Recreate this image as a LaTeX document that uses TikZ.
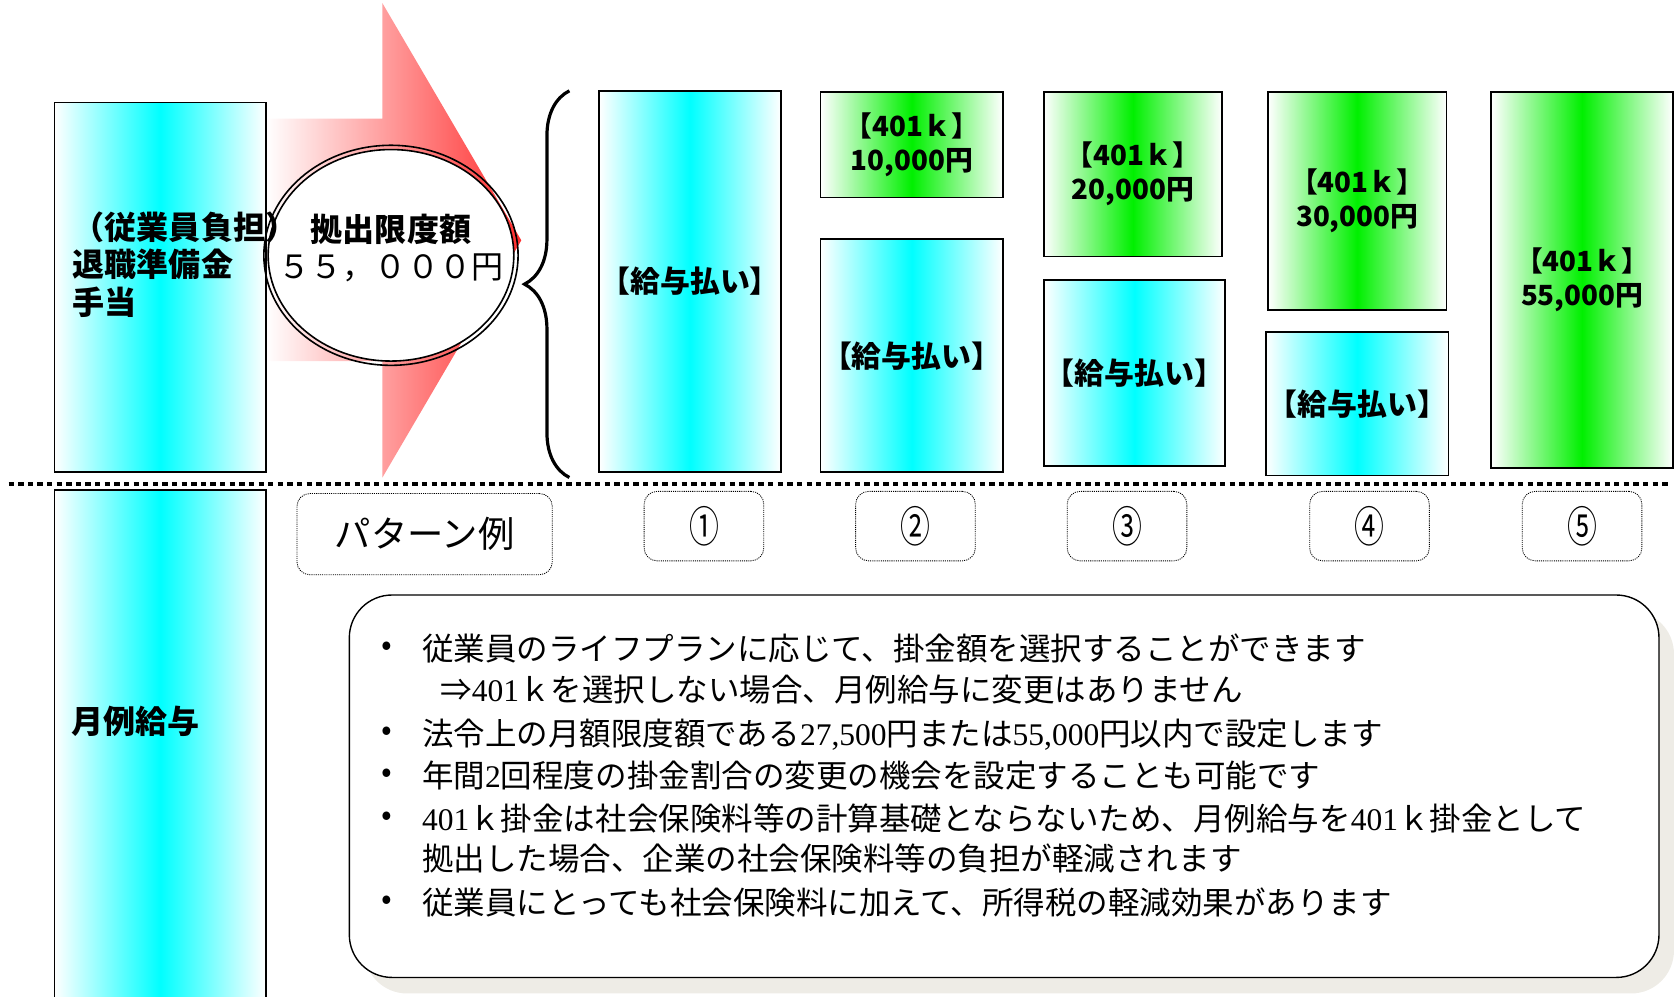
\documentclass[tikz,border=0pt]{standalone}
\usepackage{fontspec}
\setmainfont{Noto Sans CJK JP}
\newfontfamily\timesfont{Liberation Serif}
\usetikzlibrary{shapes.geometric,shadows,decorations.pathreplacing}

\definecolor{paycyan}{RGB}{0,255,255}
\definecolor{kgreen}{RGB}{0,240,0}
\definecolor{arrowred}{RGB}{255,45,45}
\definecolor{shadowgray}{RGB}{238,236,230}

\newcommand\boxfont{\fontsize{26}{32}\selectfont\bfseries}
\newcommand\sidefont{\fontsize{30}{35}\selectfont\bfseries}
\newcommand\notefont{\fontsize{29.5}{39.6}\selectfont}

\begin{document}
\begin{tikzpicture}[x=1pt,y=-1pt,
    paybox/.style={draw,line width=1.6pt,inner sep=0pt,left color=white,right color=white,middle color=paycyan,font=\fontsize{28}{32}\selectfont\bfseries,align=center},
    kbox/.style={paybox,middle color=kgreen,font=\boxfont},
    numbox/.style={draw,line width=0.8pt,dash pattern=on 1pt off 1pt,rounded corners=12pt,minimum width=112pt,minimum height=65pt,font=\fontsize{40}{40}\selectfont},
    line/.style={anchor=base west,font=\notefont,inner sep=0pt}]
    \useasboundingbox (0,0) rectangle (1568,933);

    % arrow
    \shade[left color=white,right color=arrowred] (249,111) -- (358,111) -- (358,3) -- (488,225) -- (358,447) -- (358,338) -- (249,338) -- cycle;

    % left column
    \node[paybox,minimum width=198pt,minimum height=346pt] (resv) at (150,269) {};
    \node[paybox,minimum width=198pt,minimum height=501pt] (salary) at (150,709.5) {};

    % limit
    \node[ellipse,draw,line width=1.5pt,fill=white,minimum width=230pt,minimum height=198pt] (limit) at (366,239) {};
    \draw[line width=1.5pt] (limit.center) ellipse [x radius=119,y radius=103];
    \node[align=center,font=\fontsize{30}{35}\selectfont] (limittxt) at (366,232) {{\bfseries 拠出限度額}\\５５，０００円};

    \node[anchor=north west,align=left,font=\sidefont,inner sep=0pt] (resvtxt) at (68,198) {（従業員負担）\\退職準備金\\手当};
    \node[anchor=west,font=\sidefont,inner sep=0pt] (saltxt) at (67,675) {月例給与};

    \draw[line width=3pt,decorate,decoration={brace,amplitude=42pt}] (533,447) -- (533,85);

    % patterns
    \node[paybox,minimum width=170pt,minimum height=357pt] (pay1) at (646,263.5) {【給与払い】};
    \node[kbox,minimum width=171pt,minimum height=99pt] (k2) at (853.5,135.5) {【401ｋ】\\10,000円};
    \node[paybox,minimum width=171pt,minimum height=218pt] (pay2) at (853.5,333) {【給与払い】};
    \node[kbox,minimum width=167pt,minimum height=154pt] (k3) at (1060.5,163) {【401ｋ】\\20,000円};
    \node[paybox,minimum width=170pt,minimum height=174pt] (pay3) at (1062,349) {【給与払い】};
    \node[kbox,minimum width=167pt,minimum height=204pt] (k4) at (1270.5,188) {【401ｋ】\\30,000円};
    \node[paybox,minimum width=171pt,minimum height=134pt] (pay4) at (1270.5,378) {【給与払い】};
    \node[kbox,minimum width=170pt,minimum height=352pt] (k5) at (1481,262) {【401ｋ】\\55,000円};

    \draw[line width=4.5pt,dash pattern=on 5pt off 4pt] (8,453) -- (1562,453);

    \node[numbox,minimum width=239pt,minimum height=76pt,font=\fontsize{34}{34}\selectfont] (pattern) at (397.5,500) {パターン例};
    \node[numbox] (n1) at (659,492.5) {\scalebox{0.7}[1]{①}};
    \node[numbox] (n2) at (857,492.5) {\scalebox{0.7}[1]{②}};
    \node[numbox] (n3) at (1055,492.5) {\scalebox{0.7}[1]{③}};
    \node[numbox] (n4) at (1282,492.5) {\scalebox{0.7}[1]{④}};
    \node[numbox] (n5) at (1481,492.5) {\scalebox{0.7}[1]{⑤}};

    % notes
    \node[draw,line width=1.3pt,fill=white,rounded corners=40pt,minimum width=1226pt,minimum height=358pt,
        drop shadow={shadow xshift=14pt,shadow yshift=-15pt,fill=shadowgray,opacity=1}] (notes) at (940,736) {};
    \node[font=\notefont] (b1) at (362,607) {•};
    \node[font=\notefont] (b2) at (362,687) {•};
    \node[font=\notefont] (b3) at (362,726) {•};
    \node[font=\notefont] (b4) at (362,766) {•};
    \node[font=\notefont] (b5) at (362,845) {•};
    \node[line] (l1) at (395,618) {従業員のライフプランに応じて、掛金額を選択することができます};
    \node[line] (l2) at (412,657) {⇒{\timesfont 401}ｋを選択しない場合、月例給与に変更はありません};
    \node[line] (l3) at (395,698) {法令上の月額限度額である{\timesfont 27,500}円または{\timesfont 55,000}円以内で設定します};
    \node[line] (l4) at (395,737) {年間{\timesfont 2}回程度の掛金割合の変更の機会を設定することも可能です};
    \node[line] (l5) at (395,777) {{\timesfont 401}ｋ掛金は社会保険料等の計算基礎とならないため、月例給与を{\timesfont 401}ｋ掛金として};
    \node[line] (l6) at (395,815) {拠出した場合、企業の社会保険料等の負担が軽減されます};
    \node[line] (l7) at (395,856) {従業員にとっても社会保険料に加えて、所得税の軽減効果があります};
\end{tikzpicture}
\end{document}
